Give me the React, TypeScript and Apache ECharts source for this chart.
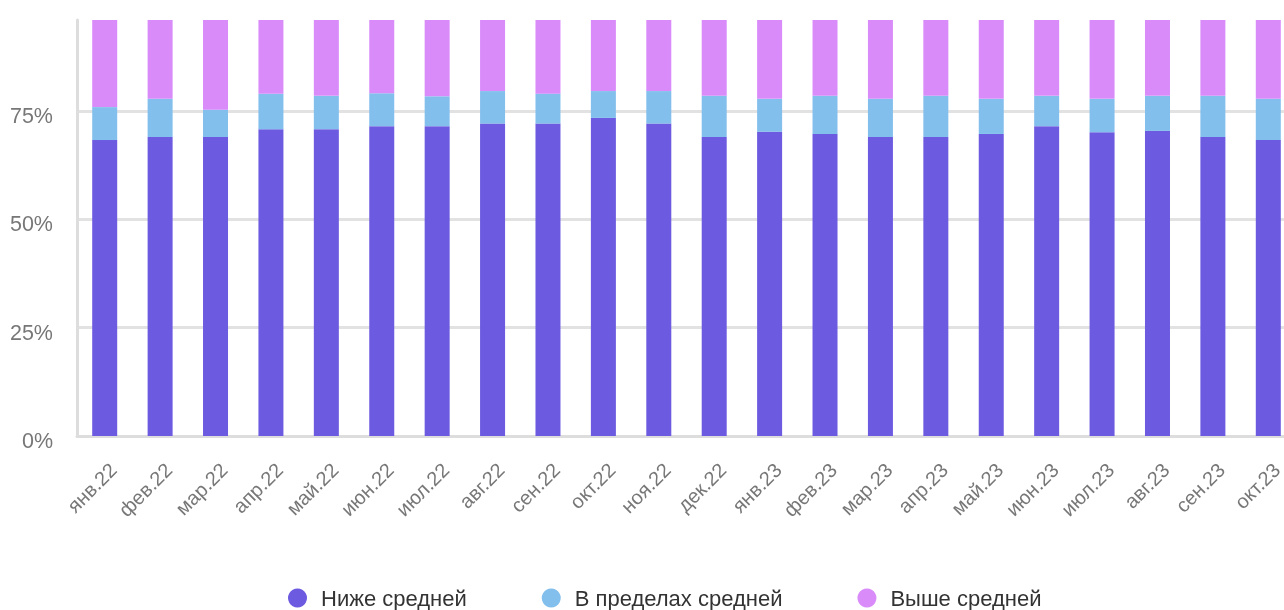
import React, { useEffect, useRef } from "react";
import * as echarts from "echarts";

const categories = [
  "янв.22", "фев.22", "мар.22", "апр.22", "май.22", "июн.22", "июл.22", "авг.22",
  "сен.22", "окт.22", "ноя.22", "дек.22", "янв.23", "фев.23", "мар.23", "апр.23",
  "май.23", "июн.23", "июл.23", "авг.23", "сен.23", "окт.23",
];
const below = [68.3, 69.0, 69.0, 70.8, 70.8, 71.5, 71.5, 72.1, 72.1, 73.4, 72.1, 69.0, 70.2, 69.7, 69.0, 69.0, 69.7, 71.5, 70.1, 70.4, 69.0, 68.3];
const within = [7.6, 8.8, 6.3, 8.2, 7.7, 7.6, 6.9, 7.5, 6.9, 6.2, 7.5, 9.5, 7.6, 8.8, 8.8, 9.5, 8.1, 7.0, 7.7, 8.1, 9.5, 9.5];
const above = [24.1, 22.2, 24.7, 21.0, 21.5, 20.9, 21.6, 20.4, 21.0, 20.4, 20.4, 21.5, 22.2, 21.5, 22.2, 21.5, 22.2, 21.5, 22.2, 21.5, 21.5, 22.2];
const seriesNames = ["Ниже средней", "В пределах средней", "Выше средней"];
const colors = ["#6C5AE0", "#83BFED", "#D98BFA"];

export default function App() {
  const ref = useRef<HTMLDivElement>(null);
  useEffect(() => {
    if (!ref.current) return;
    const chart = echarts.init(ref.current, null, { renderer: "svg" });
    const font = "'Liberation Sans', Arial, sans-serif";
    const datas = [below, within, above];
    chart.setOption({
      animation: false,
      color: colors,
      grid: { left: 77, right: 0, top: 20, bottom: 174, containLabel: false },
      legend: {
        top: 582,
        left: 283,
        icon: "circle",
        itemWidth: 19,
        itemHeight: 19,
        itemGap: 75,
        textStyle: { fontFamily: font, fontSize: 22, color: "#333", padding: [0, 0, 0, 9] },
        data: seriesNames,
      },
      xAxis: {
        type: "category",
        data: categories,
        axisLine: { lineStyle: { color: "#dddddd", width: 3 } },
        axisTick: { show: false },
        axisLabel: {
          rotate: 45,
          fontFamily: font,
          fontSize: 20,
          color: "#777",
          margin: 22,
          interval: 0,
          verticalAlign: "top",
          padding: [2, 0, 0, 0],
        },
      },
      yAxis: {
        type: "value",
        min: 0,
        max: 96,
        interval: 25,
        axisLine: { show: true, lineStyle: { color: "#dddddd", width: 3 } },
        axisTick: { show: false },
        splitLine: { showMaxLine: false, lineStyle: { color: "#e2e2e2", width: 3 } },
        axisLabel: {
          formatter: "{value}%",
          showMaxLabel: false,
          fontFamily: font,
          fontSize: 21.5,
          color: "#777",
          margin: 24,
          verticalAlign: "top",
          lineHeight: 10,
        },
      },
      series: seriesNames.map((name, i) => ({
        name,
        type: "bar",
        stack: "total",
        barWidth: 25,
        clip: true,
        data: datas[i],
        itemStyle: { color: colors[i] },
      })),
    });
    return () => chart.dispose();
  }, []);
  return (
    <div
      ref={ref}
      style={{ position: "fixed", left: 0, top: 0, width: 1296, height: 610 }}
    />
  );
}
